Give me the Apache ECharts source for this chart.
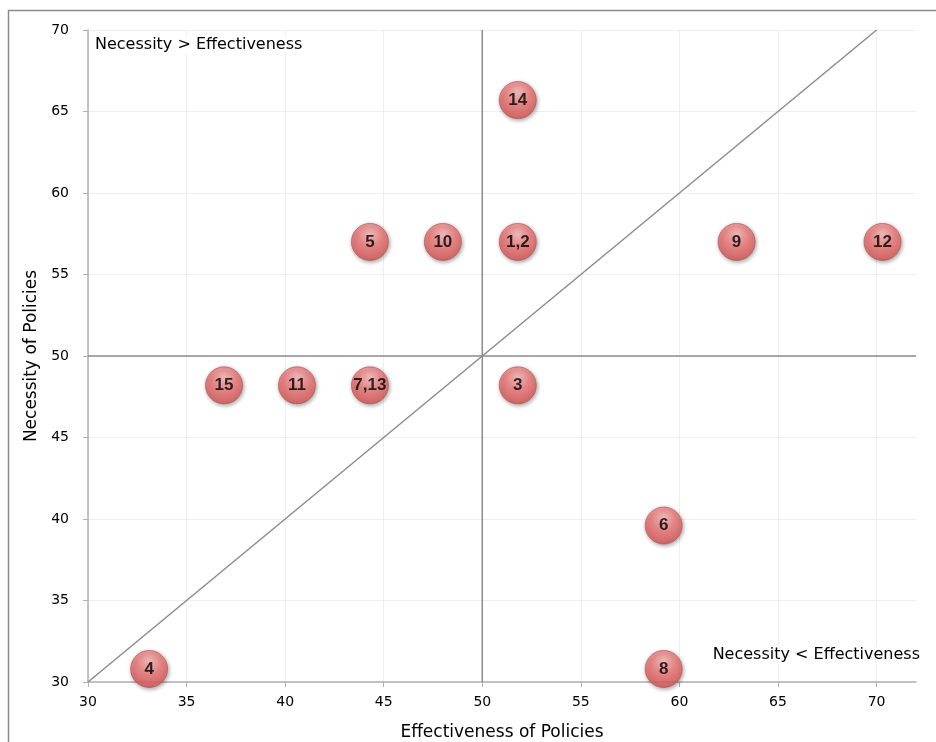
<!DOCTYPE html>
<html><head><meta charset="utf-8">
<script src="https://cdn.jsdelivr.net/npm/echarts@6/dist/echarts.min.js"></script>
<style>html,body{margin:0;padding:0;background:#fff}#c{width:936px;height:742px}</style>
</head><body><div id="c"></div>
<script>
const pointLabels = ['14','5','10','1,2','9','12','15','11','7,13','3','6','4','8'];
const effectiveness = [51.8, 44.3, 48.0, 51.8, 62.9, 70.3, 36.9, 40.6, 44.3, 51.8, 59.2, 33.1, 59.2];
const necessity =     [65.7, 57.0, 57.0, 57.0, 57.0, 57.0, 48.2, 48.2, 48.2, 48.2, 39.6, 30.8, 30.8];
const xTicks = [30, 35, 40, 45, 50, 55, 60, 65, 70];
const yTicks = [30, 35, 40, 45, 50, 55, 60, 65, 70];
const diagonalLine = [[30, 30], [70, 70]];
const verticalLine = [[50, 30], [50, 70]];
const horizontalLine = [[30, 50], [72, 50]];
const quadrantTexts = ['Necessity > Effectiveness', 'Necessity < Effectiveness'];

const font = 'Tahoma, "DejaVu Sans", sans-serif';
const chart = echarts.init(document.getElementById('c'));
const lineStyle = {color: '#8c8c8c', width: 1.5};
const refLine = (d) => ({type: 'line', data: d, symbol: 'none', lineStyle, silent: true, z: 1, animation: false});

chart.setOption({
  animation: false,
  grid: {left: 88, right: 20, top: 30, bottom: 60, containLabel: false, outerBoundsMode: 'none'},
  graphic: [
    {type: 'rect', shape: {x: 8.5, y: 10.5, width: 1000, height: 1000}, style: {fill: 'none', stroke: '#8a8a8a', lineWidth: 1.5}, silent: true, z: 0},
    {type: 'text', left: 94, top: 36, z: 3, style: {text: quadrantTexts[0], font: '16px ' + font, fill: '#000', backgroundColor: '#fff', padding: [1, 1]}},
    {type: 'text', right: 15, top: 646, z: 3, style: {text: quadrantTexts[1], font: '16px ' + font, fill: '#000', backgroundColor: '#fff', padding: [1, 1]}}
  ],
  xAxis: {
    type: 'value', min: 30, max: 72, interval: 5,
    name: 'Effectiveness of Policies', nameLocation: 'middle', nameGap: 42,
    nameTextStyle: {fontFamily: font, fontSize: 17, color: '#000'},
    axisLine: {show: true, lineStyle: {color: '#b0b0b0', width: 1.5}},
    axisTick: {show: true, length: 5, lineStyle: {color: '#b0b0b0'}, customValues: xTicks},
    axisLabel: {fontFamily: font, fontSize: 14, color: '#000', margin: 13, customValues: xTicks},
    splitLine: {show: true, lineStyle: {color: '#efefef', width: 1}}
  },
  yAxis: {
    type: 'value', min: 30, max: 70, interval: 5,
    name: 'Necessity of Policies', nameLocation: 'middle', nameGap: 47,
    nameTextStyle: {fontFamily: font, fontSize: 17, color: '#000'},
    axisLine: {show: true, lineStyle: {color: '#b0b0b0', width: 1.5}},
    axisTick: {show: true, length: 5, lineStyle: {color: '#b0b0b0'}, customValues: yTicks},
    axisLabel: {fontFamily: font, fontSize: 14, color: '#000', margin: 19, customValues: yTicks},
    splitLine: {show: true, lineStyle: {color: '#efefef', width: 1}}
  },
  series: [
    refLine(diagonalLine),
    refLine(verticalLine),
    refLine(horizontalLine),
    {
      type: 'scatter', z: 5, clip: false,
      data: effectiveness.map((x, i) => ({value: [x, necessity[i]], name: pointLabels[i]})),
      symbol: 'circle', symbolSize: 37,
      itemStyle: {
        color: new echarts.graphic.RadialGradient(0.5, 0.3, 0.75, [
          {offset: 0, color: '#ffbaba'},
          {offset: 0.45, color: '#f27878'},
          {offset: 0.85, color: '#de5a5a'},
          {offset: 1, color: '#ac4444'}
        ]),
        borderColor: '#b85050', borderWidth: 0.8,
        shadowColor: 'rgba(0,0,0,0.45)', shadowBlur: 4, shadowOffsetX: 1, shadowOffsetY: 1.5
      },
      label: {
        show: true, position: 'inside', formatter: p => p.name,
        fontFamily: '"Liberation Sans", Arial, sans-serif', fontWeight: 'bold', fontSize: 17, color: '#000'
      }
    }
  ]
});
</script></body></html>
